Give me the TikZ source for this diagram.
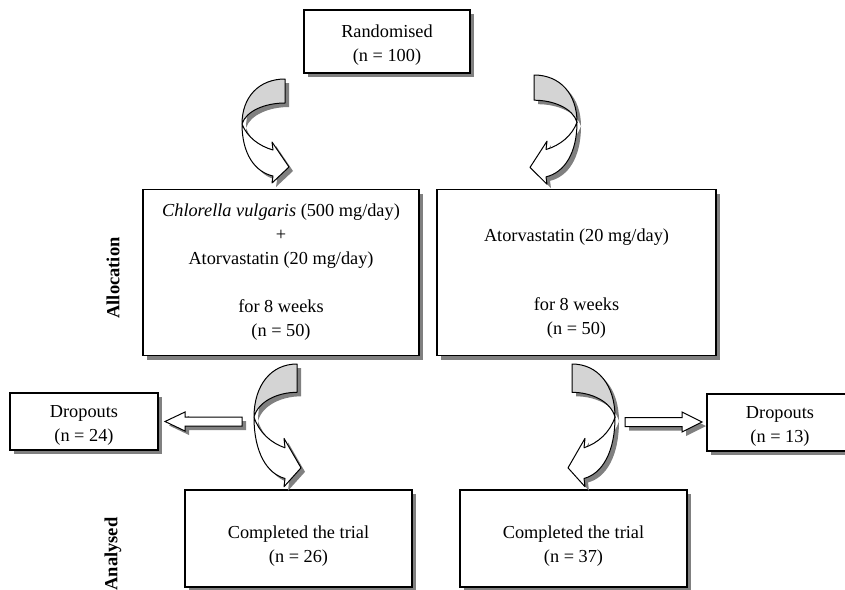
\documentclass[tikz,border=0pt]{standalone}
\usepackage{fontspec}
\setmainfont{Liberation Serif}
\usetikzlibrary{shadows}
\definecolor{ribbongray}{RGB}{212, 212, 212}
\definecolor{shadegray}{RGB}{128, 128, 128}

\tikzset{
  box/.style={draw, line width=1.1pt, fill=white, inner sep=0pt, align=center,
              font=\fontsize{18.3}{24}\selectfont,
              drop shadow={shadow xshift=4pt, shadow yshift=-4pt, fill=shadegray, opacity=1}},
  sidelabel/.style={rotate=90, font=\fontsize{18.5}{22}\selectfont\bfseries},
  ribbon/.style={draw, line width=1pt, line join=round},
  blockarrow/.style={draw, fill=white, line width=1pt, line join=miter,
              drop shadow={shadow xshift=4pt, shadow yshift=-4pt, fill=shadegray, opacity=1}}
}

\newcommand{\lowerby}[1]{\mbox{}\\[#1]}

\newcommand{\curlarrow}[4]{%
  \begin{scope}[shift={(#1+4,#2+4)}, xscale=#3, yscale=#4]
    \fill[shadegray] (0,0) .. controls (-26,0) and (-43,18) .. (-43,45) .. controls (-39,32) and (-20,24) .. (0,24) -- cycle;
    \fill[shadegray] (-43,45) .. controls (-43,75) and (-30,93) .. (-12,97) -- (-13,104) -- (4,88) -- (-13,63) -- (-12,71)
                     .. controls (-26,67) and (-38,58) .. (-43,45) -- cycle;
  \end{scope}
  \begin{scope}[shift={(#1,#2)}, xscale=#3, yscale=#4]
    \filldraw[ribbon, fill=white] (-43,45) .. controls (-43,75) and (-30,93) .. (-12,97) -- (-13,104) -- (4,88) -- (-13,63) -- (-12,71)
                     .. controls (-26,67) and (-38,58) .. (-43,45) -- cycle;
    \filldraw[ribbon, fill=ribbongray] (0,0) .. controls (-26,0) and (-43,18) .. (-43,45) .. controls (-39,32) and (-20,24) .. (0,24) -- cycle;
  \end{scope}}

\begin{document}
\begin{tikzpicture}[x=1pt, y=-1pt]
  \useasboundingbox (0,0) rectangle (845,589);

  \node[box, minimum width=166pt, minimum height=63pt] (rand)  at (387,41.5)   {\lowerby{-3.3pt}Randomised\\(n = 100)};
  \node[box, minimum width=276pt, minimum height=166pt] (allocA) at (281,272.5)
       {\textit{Chlorella vulgaris} (500 mg/day)\\+\\Atorvastatin (20 mg/day)\\[24pt]for 8 weeks\\(n = 50)};
  \node[box, minimum width=279pt, minimum height=166pt] (allocB) at (576.5,272.5)
       {\lowerby{10pt}Atorvastatin (20 mg/day)\\[45pt]for 8 weeks\\(n = 50)};
  \node[box, minimum width=148pt, minimum height=57pt]  (dropA)  at (84,421.5)   {\lowerby{-3.3pt}Dropouts\\(n = 24)};
  \node[box, minimum width=146pt, minimum height=57pt]  (dropB)  at (780,422.5)  {\lowerby{-3.3pt}Dropouts\\(n = 13)};
  \node[box, minimum width=227pt, minimum height=97pt]  (doneA)  at (298.5,538.5) {\lowerby{4.7pt}Completed the trial\\(n = 26)};
  \node[box, minimum width=227pt, minimum height=97pt]  (doneB)  at (573.5,538.5) {\lowerby{4.7pt}Completed the trial\\(n = 37)};

  \node[sidelabel] (lblalloc) at (113,278) {Allocation};
  \node[sidelabel] (lblanal)  at (113,554) {Analysed};

  \curlarrow{285}{79}{1}{1}
  \curlarrow{534}{75}{-1}{1.05}
  \curlarrow{297}{364}{1}{1.18}
  \curlarrow{572}{364}{-1}{1.18}

  \filldraw[blockarrow] (242,417)   -- (185,417)   -- (185,412) -- (165,421.5) -- (185,431) -- (185,426)   -- (242,426)   -- cycle;
  \filldraw[blockarrow] (625,417.5) -- (682,417.5) -- (682,412) -- (702,422)   -- (682,432) -- (682,426.5) -- (625,426.5) -- cycle;
\end{tikzpicture}
\end{document}
